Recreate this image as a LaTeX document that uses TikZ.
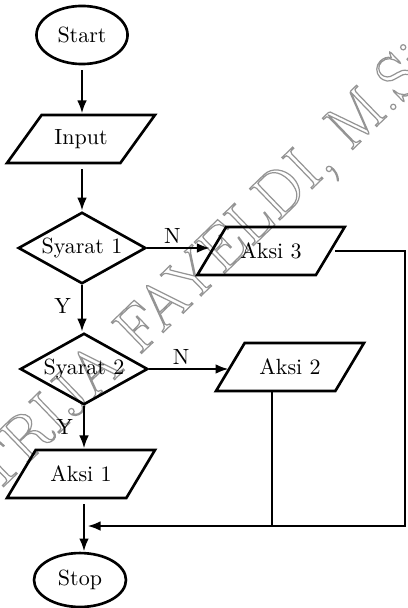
\documentclass[tikz,border=0pt]{standalone}
\usepackage{fontspec}
\usetikzlibrary{shapes.geometric,arrows.meta}

% outline (stroked, unfilled) text for the diagonal watermark
\newcommand\outlinetext[1]{\special{pdf:literal direct 1 Tr 0.55 w}#1\special{pdf:literal direct 0 Tr}}

\begin{document}
\begin{tikzpicture}[x=0.4545pt,y=-0.4545pt,
  line/.style={line width=1.2pt},
  arr/.style={line, -{Latex[length=6pt,width=4.4pt]}},
  term/.style={draw, line width=1.2pt, ellipse, inner sep=0pt},
  io/.style={draw, line width=1.2pt, trapezium, trapezium left angle=39.6,
    trapezium right angle=140.4, trapezium stretches=true,
    minimum width=67.3pt, minimum height=21.8pt, inner sep=0pt},
  cond/.style={draw, line width=1.2pt, diamond, shape aspect=1.78,
    minimum width=58pt, minimum height=32.5pt, inner sep=0pt},
  lbl/.style={inner sep=1.5pt},
  ylbl/.style={left, inner sep=4.5pt},
  wmark/.style={rotate=44, anchor=base west, inner sep=0pt, text=black!42,
    font=\fontsize{29}{34}\selectfont}]
\useasboundingbox (0,0) rectangle (407,608);

% watermark
\node[wmark] (wm) at (139,356) {\outlinetext{\llap{TRIJA }FAYELDI, M.Si}};

% flowchart boxes
\node[term, minimum width=41.4pt, minimum height=26.4pt] (start) at (82,35) {Start};
\node[io] (input) at (81,139) {Input};
\node[cond] (s1) at (82,248) {Syarat 1};
\node[io] (a3) at (271,251) {Aksi 3};
\node[cond] (s2) at (84,369) {Syarat 2};
\node[io] (a2) at (290,367) {Aksi 2};
\node[io] (a1) at (81,474) {Aksi 1};
\node[term, minimum width=41.8pt, minimum height=24.5pt] (stop) at (80,580) {Stop};

% return rail on the right
\coordinate (rail) at (405,526);
\coordinate (join) at (s2.south |- rail);

% main column
\draw[arr, shorten <=2.2pt] (start.south) -- (start.south |- input.north);
\draw[arr, shorten <=2.2pt] (start.south |- input.south) -- (start.south |- s1.north);
\draw[arr] (s1.south) -- node[ylbl, pos=0.45] {Y} (s1.south |- s2.north);
\draw[arr] (s2.south) -- node[ylbl, pos=0.5] {Y} (s2.south |- a1.north);
\draw[arr, shorten <=2.2pt] (s2.south |- a1.south) -- (s2.south |- stop.north);

% "N" branches
\draw[arr] (s1.east) -- node[lbl, above, pos=0.4] {N} (s1.east -| a3.west);
\draw[arr] (s2.east) -- node[lbl, above, pos=0.4] {N} (s2.east -| a2.west);

% back to the main column
\draw[arr, shorten <=1.5pt, shorten >=1.5pt] (a3.east) -| (rail) -- (join);
\draw[line] ([xshift=-8.2pt]a2.south) -- ([xshift=-8.2pt]a2.south |- rail);
\end{tikzpicture}
\end{document}
